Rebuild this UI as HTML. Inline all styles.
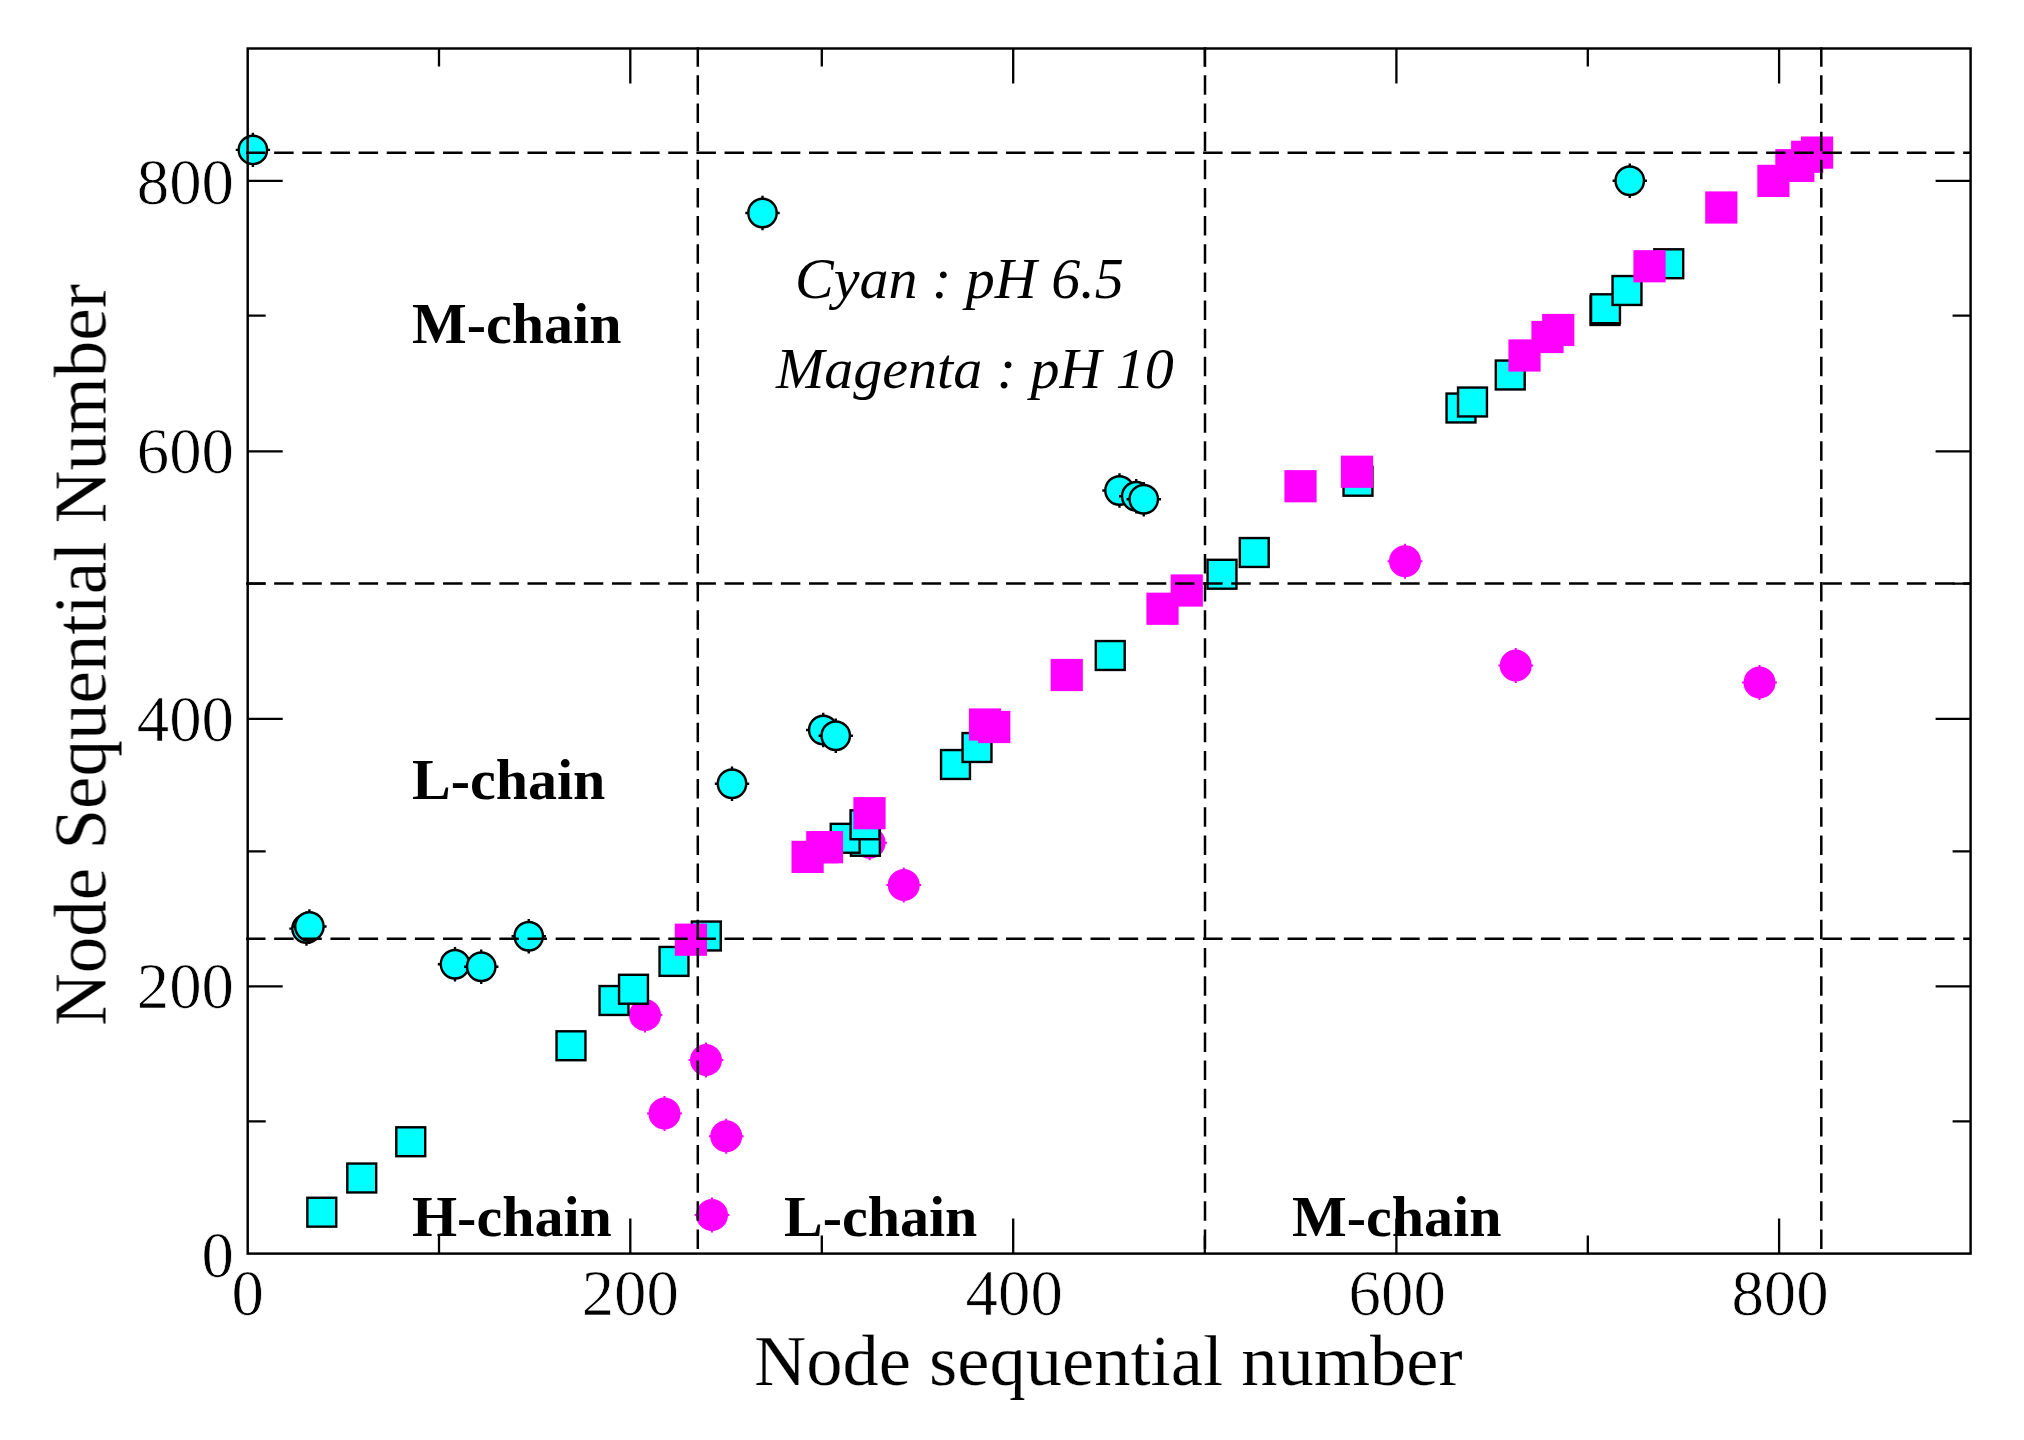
<!DOCTYPE html>
<html lang="en"><head><meta charset="utf-8"><title>Node sequential number plot</title>
<style>html,body{margin:0;padding:0;background:#fff}body{width:2024px;height:1440px;overflow:hidden}svg{display:block}</style>
</head><body>
<svg width="2024" height="1440" viewBox="0 0 2024 1440">
<defs><filter id="soft" x="0" y="0" width="2024" height="1440" filterUnits="userSpaceOnUse"><feGaussianBlur stdDeviation="0.65"/></filter></defs>
<rect width="2024" height="1440" fill="#fff"/>
<g filter="url(#soft)">
<g fill="#f0f" stroke="#f0f" stroke-width="2">
<circle cx="645" cy="1015" r="15.0"/><path d="M627.6 1015H662.4M645 997.6V1032.4"/>
<circle cx="664.5" cy="1113.5" r="15.0"/><path d="M647.1 1113.5H681.9M664.5 1096.1V1130.9"/>
<circle cx="706" cy="1060" r="15.0"/><path d="M688.6 1060H723.4M706 1042.6V1077.4"/>
<circle cx="726.25" cy="1136.25" r="15.0"/><path d="M708.85 1136.25H743.65M726.25 1118.85V1153.65"/>
<circle cx="712" cy="1215" r="15.0"/><path d="M694.6 1215H729.4M712 1197.6V1232.4"/>
<circle cx="869.6" cy="842.8" r="15.0"/><path d="M852.2 842.8H887.0M869.6 825.4V860.1999999999999"/>
<circle cx="903.75" cy="885" r="15.0"/><path d="M886.35 885H921.15M903.75 867.6V902.4"/>
<circle cx="1405" cy="561.25" r="15.0"/><path d="M1387.6 561.25H1422.4M1405 543.85V578.65"/>
<circle cx="1515.75" cy="665.5" r="15.0"/><path d="M1498.35 665.5H1533.15M1515.75 648.1V682.9"/>
<circle cx="1759.5" cy="682.5" r="15.0"/><path d="M1742.1 682.5H1776.9M1759.5 665.1V699.9"/>
</g>
<g fill="#0ff" stroke="#000" stroke-width="2.4">
<rect x="307.35" y="1197.75" width="28.9" height="28.9"/>
<rect x="347.30" y="1163.55" width="28.9" height="28.9"/>
<rect x="396.30" y="1127.30" width="28.9" height="28.9"/>
<rect x="556.55" y="1031.30" width="28.9" height="28.9"/>
<rect x="599.55" y="986.05" width="28.9" height="28.9"/>
<rect x="619.05" y="974.80" width="28.9" height="28.9"/>
<rect x="659.55" y="946.95" width="28.9" height="28.9"/>
<rect x="691.85" y="921.55" width="28.9" height="28.9"/>
<rect x="850.95" y="826.85" width="28.9" height="28.9"/>
<rect x="830.75" y="823.85" width="28.9" height="28.9"/>
<rect x="850.55" y="810.35" width="28.9" height="28.9"/>
<rect x="941.05" y="750.05" width="28.9" height="28.9"/>
<rect x="962.55" y="733.05" width="28.9" height="28.9"/>
<rect x="1095.80" y="641.05" width="28.9" height="28.9"/>
<rect x="1207.55" y="559.80" width="28.9" height="28.9"/>
<rect x="1239.80" y="538.05" width="28.9" height="28.9"/>
<rect x="1343.55" y="466.80" width="28.9" height="28.9"/>
<rect x="1446.55" y="393.55" width="28.9" height="28.9"/>
<rect x="1458.05" y="387.55" width="28.9" height="28.9"/>
<rect x="1495.80" y="360.55" width="28.9" height="28.9"/>
<rect x="1590.55" y="296.05" width="28.9" height="28.9"/>
<rect x="1591.05" y="294.30" width="28.9" height="28.9"/>
<rect x="1612.55" y="276.05" width="28.9" height="28.9"/>
<rect x="1654.30" y="249.30" width="28.9" height="28.9"/>
</g>
<g fill="#0ff" stroke="#000" stroke-width="2.4">
<path stroke-width="2.4" d="M235.70000000000002 149.9H270.1M252.9 132.70000000000002V167.1"/><circle cx="252.9" cy="149.9" r="14.2"/>
<path stroke-width="2.4" d="M289.3 928.6H323.7M306.5 911.4V945.8000000000001"/><circle cx="306.5" cy="928.6" r="14.2"/>
<path stroke-width="2.4" d="M292.2 926.5H326.59999999999997M309.4 909.3V943.7"/><circle cx="309.4" cy="926.5" r="14.2"/>
<path stroke-width="2.4" d="M437.8 964.25H472.2M455 947.05V981.45"/><circle cx="455" cy="964.25" r="14.2"/>
<path stroke-width="2.4" d="M464.05 966.75H498.45M481.25 949.55V983.95"/><circle cx="481.25" cy="966.75" r="14.2"/>
<path stroke-width="2.4" d="M511.55 936.25H545.95M528.75 919.05V953.45"/><circle cx="528.75" cy="936.25" r="14.2"/>
<path stroke-width="2.4" d="M714.8 783.75H749.2M732 766.55V800.95"/><circle cx="732" cy="783.75" r="14.2"/>
<path stroke-width="2.4" d="M745.3 213H779.7M762.5 195.8V230.2"/><circle cx="762.5" cy="213" r="14.2"/>
<path stroke-width="2.4" d="M806.05 730H840.45M823.25 712.8V747.2"/><circle cx="823.25" cy="730" r="14.2"/>
<path stroke-width="2.4" d="M818.55 735.75H852.95M835.75 718.55V752.95"/><circle cx="835.75" cy="735.75" r="14.2"/>
<path stroke-width="2.4" d="M1102.3 490.5H1136.7M1119.5 473.3V507.7"/><circle cx="1119.5" cy="490.5" r="14.2"/>
<path stroke-width="2.4" d="M1119.05 496.25H1153.45M1136.25 479.05V513.45"/><circle cx="1136.25" cy="496.25" r="14.2"/>
<path stroke-width="2.4" d="M1126.55 499.25H1160.95M1143.75 482.05V516.45"/><circle cx="1143.75" cy="499.25" r="14.2"/>
<path stroke-width="2.4" d="M1612.55 180.75H1646.95M1629.75 163.55V197.95"/><circle cx="1629.75" cy="180.75" r="14.2"/>
</g>
<g fill="#f0f">
<rect x="674.80" y="923.60" width="32.2" height="32.2"/>
<rect x="791.50" y="840.80" width="32.2" height="32.2"/>
<rect x="806.20" y="831.10" width="32.2" height="32.2"/>
<rect x="810.90" y="831.10" width="32.2" height="32.2"/>
<rect x="853.40" y="797.10" width="32.2" height="32.2"/>
<rect x="968.90" y="708.40" width="32.2" height="32.2"/>
<rect x="978.15" y="710.90" width="32.2" height="32.2"/>
<rect x="1050.65" y="658.90" width="32.2" height="32.2"/>
<rect x="1146.40" y="592.65" width="32.2" height="32.2"/>
<rect x="1170.65" y="574.40" width="32.2" height="32.2"/>
<rect x="1284.40" y="470.15" width="32.2" height="32.2"/>
<rect x="1340.90" y="455.65" width="32.2" height="32.2"/>
<rect x="1508.40" y="339.40" width="32.2" height="32.2"/>
<rect x="1531.40" y="320.90" width="32.2" height="32.2"/>
<rect x="1542.15" y="313.90" width="32.2" height="32.2"/>
<rect x="1633.40" y="250.15" width="32.2" height="32.2"/>
<rect x="1705.20" y="191.40" width="32.2" height="32.2"/>
<rect x="1757.30" y="164.80" width="32.2" height="32.2"/>
<rect x="1775.30" y="149.10" width="32.2" height="32.2"/>
<rect x="1782.20" y="149.80" width="32.2" height="32.2"/>
<rect x="1791.10" y="140.70" width="32.2" height="32.2"/>
<rect x="1801.00" y="136.50" width="32.2" height="32.2"/>
</g>
<g stroke="#000" stroke-width="2.5" stroke-dasharray="19.5 8.65" fill="none">
<path d="M246 152.8H1970.6"/>
<path d="M246 583.6H1970.6"/>
<path d="M246 938.7H1970.6"/>
<path d="M697.8 47.2V1253.6"/>
<path d="M1205 47.2V1253.6"/>
<path d="M1821.3 47.2V1253.6"/>
</g>
<rect x="247.7" y="48.5" width="1722.90" height="1205.10" fill="none" stroke="#000" stroke-width="2.45"/>
<path d="M439.0 1253.6v-18M439.0 48.5v18M247.7 1121.3h18M1970.6 1121.3h-18M630.3 1253.6v-35M630.3 48.5v35M247.7 986.4h35M1970.6 986.4h-35M821.8 1253.6v-18M821.8 48.5v18M247.7 851.3h18M1970.6 851.3h-18M1013.2 1253.6v-35M1013.2 48.5v35M247.7 718.9h35M1970.6 718.9h-35M1204.8 1253.6v-18M1204.8 48.5v18M247.7 583.6h18M1970.6 583.6h-18M1396.4 1253.6v-35M1396.4 48.5v35M247.7 451.4h35M1970.6 451.4h-35M1587.8 1253.6v-18M1587.8 48.5v18M247.7 315.6h18M1970.6 315.6h-18M1779.1 1253.6v-35M1779.1 48.5v35M247.7 180.9h35M1970.6 180.9h-35" stroke="#000" stroke-width="2.3" fill="none"/>
<g font-family="Liberation Serif, serif" fill="#000">
<g font-size="64.8" text-anchor="middle" stroke="#fff" stroke-width="0.7">
<text x="247.7" y="1315.2">0</text>
<text x="630.3" y="1315.2">200</text>
<text x="1014.2" y="1315.2">400</text>
<text x="1397.2" y="1315.2">600</text>
<text x="1780" y="1315.2">800</text>
</g><g font-size="64.8" text-anchor="end" stroke="#fff" stroke-width="0.7">
<text x="234" y="1276.5">0</text>
<text x="234" y="1008">200</text>
<text x="234" y="740.5">400</text>
<text x="234" y="473">600</text>
<text x="234" y="203.8">800</text>
</g>
<text x="1108.3" y="1384.5" font-size="72.5" text-anchor="middle" stroke="#fff" stroke-width="0.25">Node sequential number</text>
<text transform="translate(105.5 655) rotate(-90)" font-size="73" text-anchor="middle" stroke="#fff" stroke-width="0.25">Node Sequential Number</text>
<g font-size="58" font-weight="bold">
<text x="412" y="342.5">M-chain</text>
<text x="412" y="799.2">L-chain</text>
<text x="412" y="1235.5">H-chain</text>
<text x="784" y="1235.5">L-chain</text>
<text x="1292" y="1235.5">M-chain</text>
</g>
<g font-size="58" font-style="italic">
<text x="795" y="297.5">Cyan : pH 6.5</text>
<text x="776" y="387.5">Magenta : pH 10</text>
</g>
</g>
</g>
</svg>
</body></html>
